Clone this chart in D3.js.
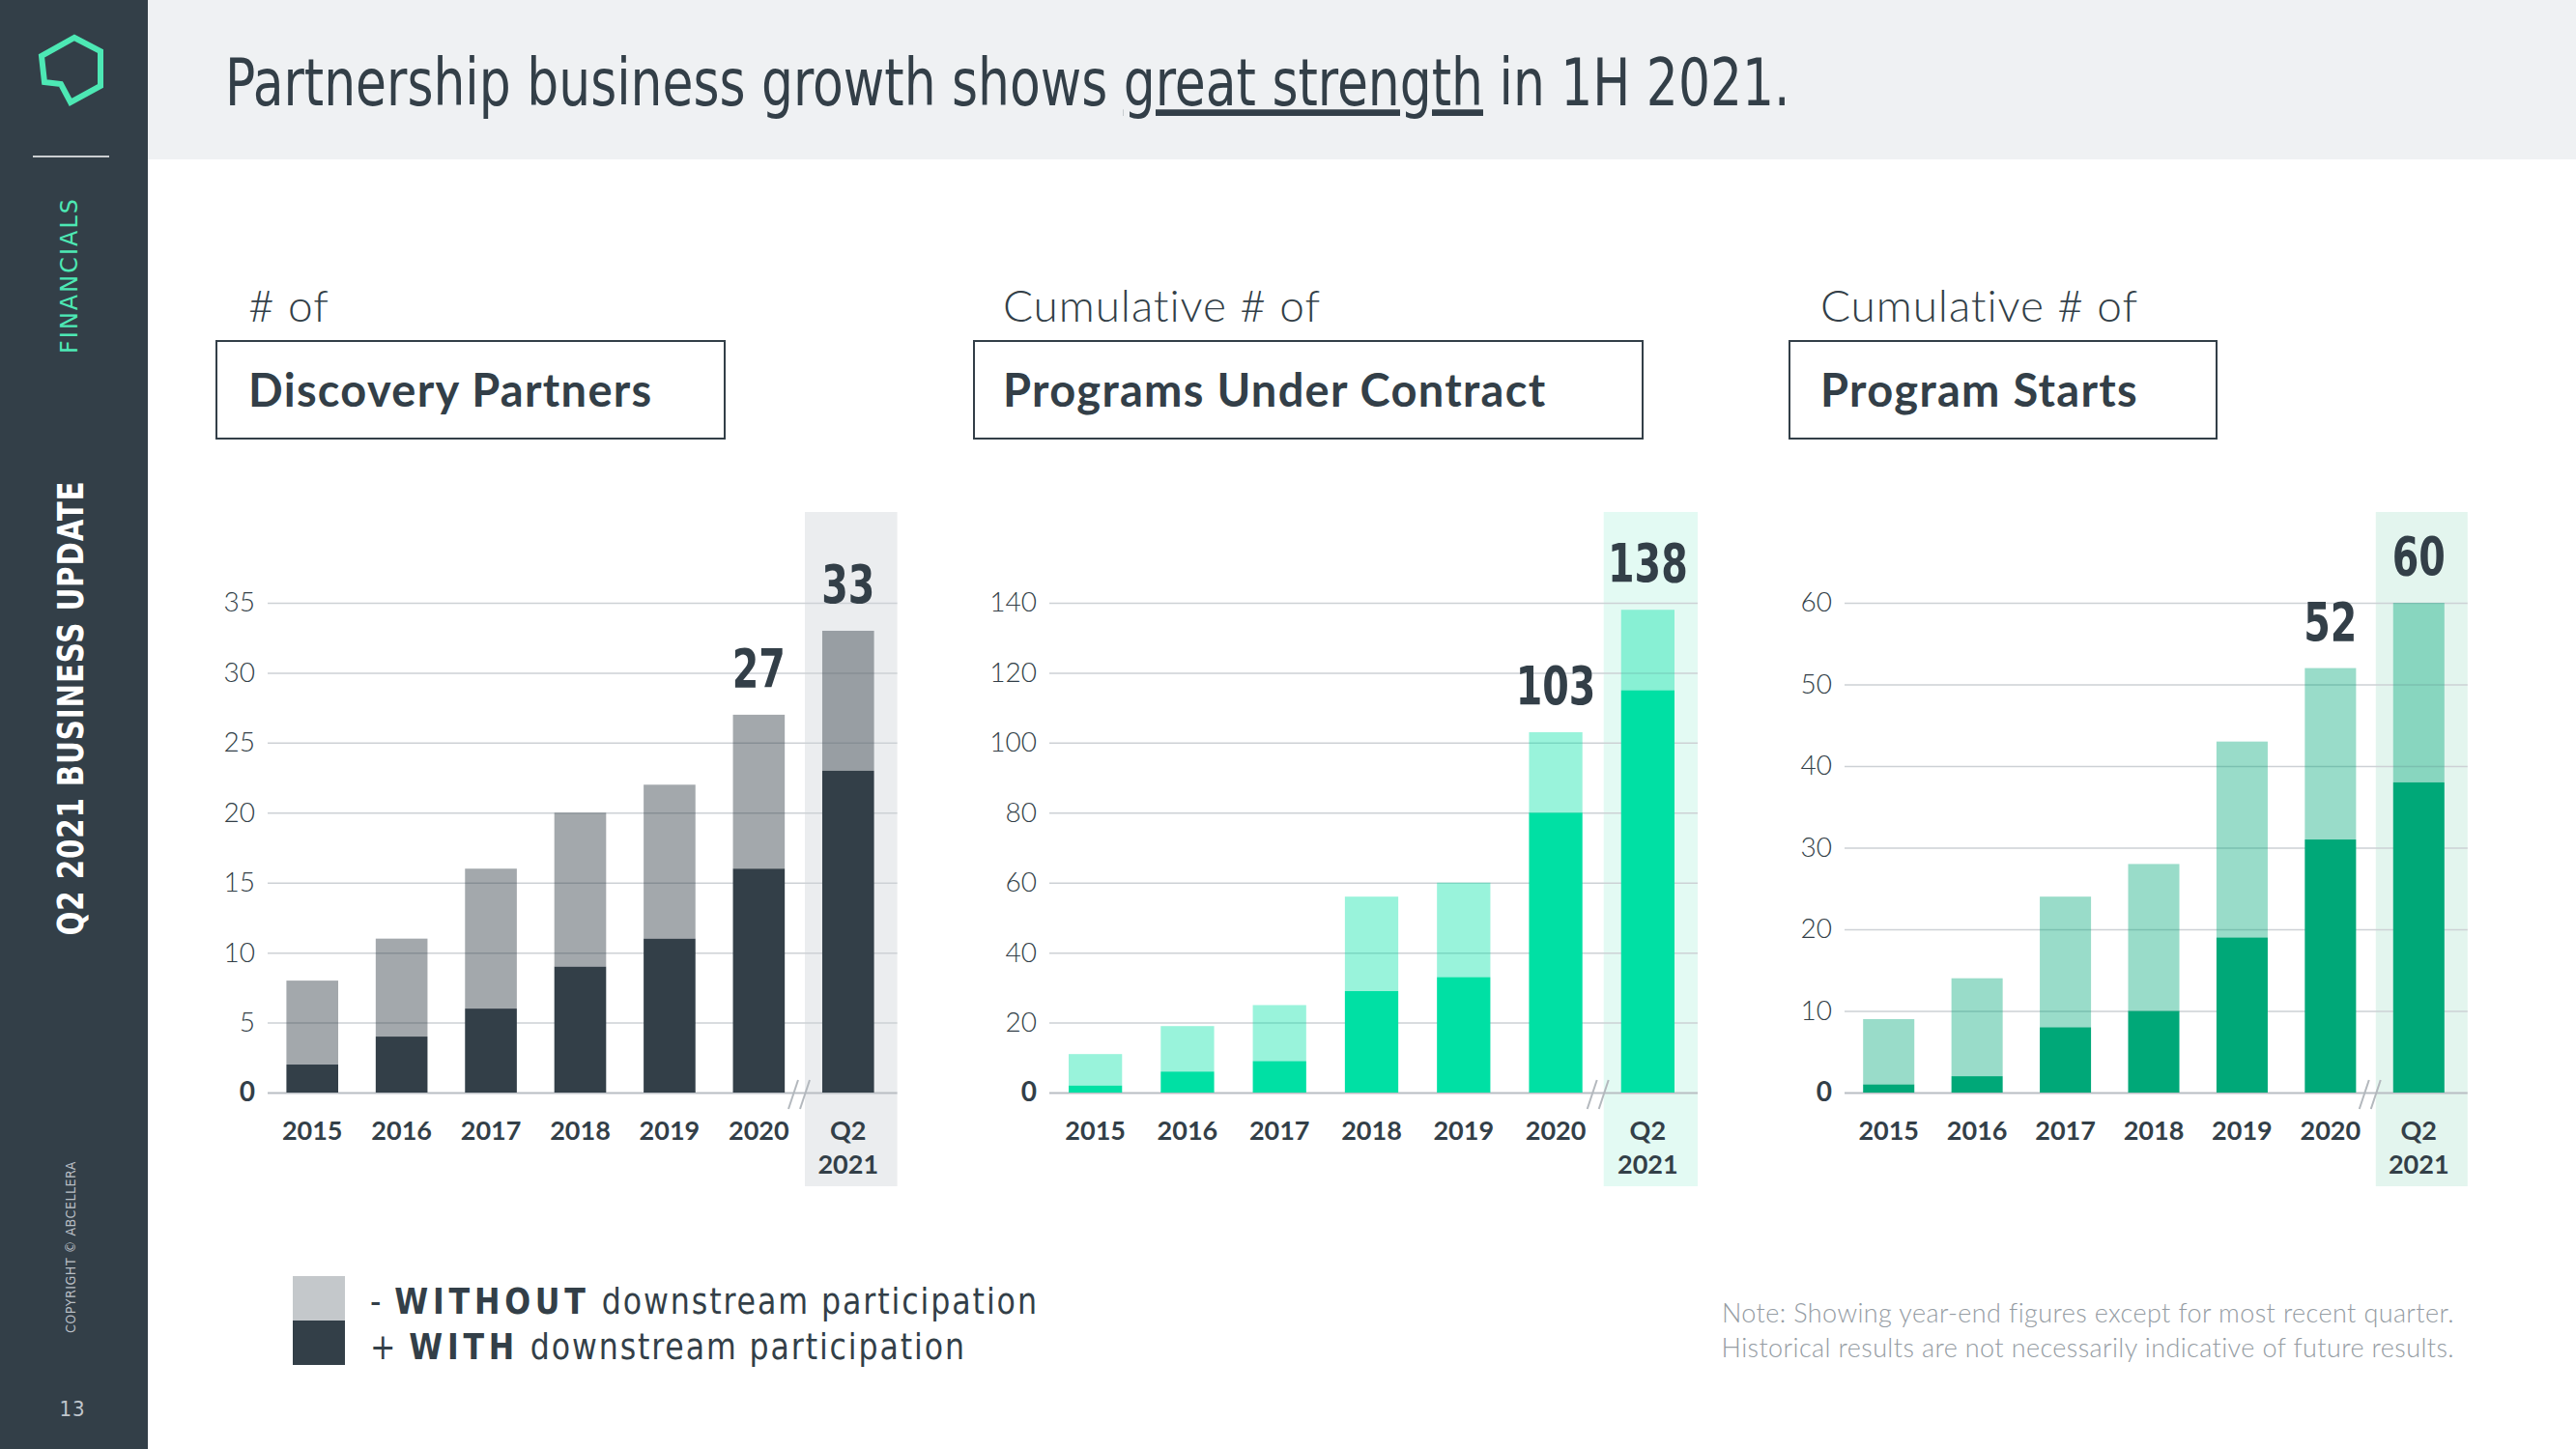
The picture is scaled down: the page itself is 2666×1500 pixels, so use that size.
<!DOCTYPE html>
<html><head><meta charset="utf-8">
<script src="https://cdn.jsdelivr.net/npm/d3@7"></script>
<style>
html,body{margin:0;padding:0;background:#fff;}
svg{display:block;}
</style></head><body>
<svg id="chart" width="2666" height="1500"></svg>
<script>
// ---------- DATA ----------
const categories = ["2015","2016","2017","2018","2019","2020","Q2 2021"];
const partnersWith     = [2, 4, 6, 9, 11, 16, 23];
const partnersTotal    = [8, 11, 16, 20, 22, 27, 33];
const contractsWith    = [2, 6, 9, 29, 33, 80, 115];
const contractsTotal   = [11, 19, 25, 56, 60, 103, 138];
const startsWith       = [1, 2, 8, 10, 19, 31, 38];
const startsTotal      = [9, 14, 24, 28, 43, 52, 60];
const partnersTicks  = [0, 5, 10, 15, 20, 25, 30, 35];
const contractsTicks = [0, 20, 40, 60, 80, 100, 120, 140];
const startsTicks    = [0, 10, 20, 30, 40, 50, 60];
const labeledCategories = ["2020", "Q2 2021"];
const panelPrefixes = ["# of", "Cumulative # of", "Cumulative # of"];
const panelTitles   = ["Discovery Partners", "Programs Under Contract", "Program Starts"];
const titleParts = ["Partnership business growth shows ", "great strength", " in 1H 2021."];
const legendLabels = [["- ", "WITHOUT", " downstream participation"], ["+ ", "WITH", " downstream participation"]];
const noteLines = ["Note: Showing year-end figures except for most recent quarter.",
                   "Historical results are not necessarily indicative of future results."];

// ---------- STYLE / LAYOUT ----------
const INK = "#333f48";
const NARROW = "'Liberation Sans Narrow','DejaVu Sans Condensed',sans-serif";
const SANS = "Lato,'Open Sans',sans-serif";
const svg = d3.select("#chart");

// sidebar
svg.append("rect").attr("x",0).attr("y",0).attr("width",153).attr("height",1500).attr("fill",INK);
svg.append("polygon")
  .attr("points","77,39 104,53 104,89 73,106 63,87 46,85 43,58")
  .attr("fill","none").attr("stroke","#4de8b4").attr("stroke-width",6).attr("stroke-linejoin","miter");
svg.append("line").attr("x1",34).attr("x2",113).attr("y1",162).attr("y2",162).attr("stroke","#fff").attr("stroke-width",1.5);
svg.append("text").attr("transform","translate(80,285) rotate(-90)").attr("text-anchor","middle")
  .attr("font-family",NARROW).attr("font-size",25).attr("letter-spacing",2)
  .attr("textLength",162).attr("lengthAdjust","spacingAndGlyphs").attr("fill","#4de8b4").text("FINANCIALS");
svg.append("text").attr("transform","translate(86,733) rotate(-90)").attr("text-anchor","middle")
  .attr("font-family",NARROW).attr("font-weight","bold").attr("font-size",38).attr("letter-spacing",1)
  .attr("textLength",471).attr("lengthAdjust","spacingAndGlyphs").attr("fill","#fff").text("Q2 2021 BUSINESS UPDATE");
svg.append("text").attr("transform","translate(78,1291) rotate(-90)").attr("text-anchor","middle")
  .attr("font-family",NARROW).attr("font-size",14).attr("letter-spacing",0.5)
  .attr("textLength",178).attr("lengthAdjust","spacingAndGlyphs").attr("fill","#b8bec4").text("COPYRIGHT © ABCELLERA");
svg.append("text").attr("x",75).attr("y",1466).attr("text-anchor","middle")
  .attr("font-family",NARROW).attr("font-size",22).attr("letter-spacing",1).attr("fill","#c0c6cc").text("13");

// header
svg.append("rect").attr("x",153).attr("y",0).attr("width",2666-153).attr("height",165).attr("fill","#eff1f3");
const title = svg.append("text").attr("x",0).attr("y",0)
  .attr("font-family",NARROW).attr("font-size",67).attr("fill",INK);
titleParts.forEach((t,i)=>{
  const ts = title.append("tspan").text(t);
  if(i===1) ts.style("text-decoration","underline");
});
const natural = title.node().getComputedTextLength();
title.attr("transform",`translate(233,109) scale(${1620/natural},1)`);

// panels
const panels = [
  {w: partnersWith, t: partnersTotal, ticks: partnersTicks, xr:[277,924], box:[224,750], textX:257,
   dark:INK, lightOp:0.45, band:"#ebedef"},
  {w: contractsWith, t: contractsTotal, ticks: contractsTicks, xr:[1086,1753], box:[1008,1700], textX:1038,
   dark:"#00e0a4", lightOp:0.4, band:"#e3faf3"},
  {w: startsWith, t: startsTotal, ticks: startsTicks, xr:[1909,2549], box:[1852,2294], textX:1884,
   dark:"#00a878", lightOp:0.4, band:"#e3f5ee"}
];
const Y0 = 1131, Y1 = 624;

panels.forEach((p,pi)=>{
  const g = svg.append("g");
  // headings
  g.append("text").attr("x",p.textX).attr("y",333).attr("font-family",SANS).attr("font-weight",300)
    .attr("font-size",46).attr("letter-spacing",0.9).attr("fill",INK).text(panelPrefixes[pi]);
  g.append("rect").attr("x",p.box[0]).attr("y",353).attr("width",p.box[1]-p.box[0]).attr("height",101)
    .attr("fill","none").attr("stroke",INK).attr("stroke-width",2);
  g.append("text").attr("x",p.textX).attr("y",421).attr("font-family",SANS).attr("font-weight",700)
    .attr("font-size",47).attr("letter-spacing",1.3).attr("fill",INK).text(panelTitles[pi]);

  const x = d3.scaleBand().domain(categories).range(p.xr).paddingInner(0.42).paddingOuter(0.21);
  const y = d3.scaleLinear().domain([0, d3.max(p.ticks)]).range([Y0, Y1]);
  const bw = x.bandwidth();
  const last = categories[categories.length-1];
  const bandL = x(last) - 18, bandR = x(last) + bw + 24;

  // highlight band
  g.append("rect").attr("x",bandL).attr("y",530).attr("width",bandR-bandL).attr("height",698).attr("fill",p.band);

  // grid via axis
  const ax = g.append("g").attr("transform",`translate(${p.xr[0]},0)`)
    .call(d3.axisLeft(y).tickValues(p.ticks).tickSize(-(bandR-p.xr[0])).tickPadding(13));
  ax.select(".domain").remove();
  ax.selectAll(".tick line").attr("stroke","#cdd1d5").attr("stroke-width",1.5);
  ax.selectAll(".tick text").attr("font-family",SANS).attr("font-size",28).attr("font-weight",d=>d===0?700:300)
    .attr("fill",INK);
  ax.selectAll(".tick").filter(d=>d===0).select("line").attr("stroke","#b9bec3").attr("stroke-width",2);

  // bars
  const rows = categories.map((c,i)=>({c, w:p.w[i], t:p.t[i]}));
  g.selectAll(".bw").data(rows).join("rect").attr("x",d=>x(d.c)).attr("width",bw)
    .attr("y",d=>y(d.w)).attr("height",d=>y(0)-y(d.w)).attr("fill",p.dark);
  g.selectAll(".bo").data(rows).join("rect").attr("x",d=>x(d.c)).attr("width",bw)
    .attr("y",d=>y(d.t)).attr("height",d=>y(d.w)-y(d.t)).attr("fill",p.dark).attr("fill-opacity",p.lightOp);

  // value labels
  g.selectAll(".vl").data(rows.filter(d=>labeledCategories.includes(d.c))).join("text")
    .attr("transform",d=>`translate(${x(d.c)+bw/2},${y(d.t)-29}) scale(0.8,1)`).attr("text-anchor","middle")
    .attr("font-family",NARROW).attr("font-weight","bold").attr("font-size",55).attr("fill",INK)
    .text(d=>d.t);

  // category labels
  const cl = g.selectAll(".cl").data(categories).join("text")
    .attr("x",d=>x(d)+bw/2).attr("y",1180).attr("text-anchor","middle")
    .attr("font-family",SANS).attr("font-weight",700).attr("font-size",27).attr("fill",INK);
  cl.each(function(d){
    const parts = d.split(" ");
    const el = d3.select(this);
    parts.forEach((s,k)=>el.append("tspan").attr("x",x(d)+bw/2).attr("dy",k?35:0).text(s));
  });

  // axis break marks
  const bx = bandL - 6;
  [-6,6].forEach(o=>{
    g.append("line").attr("x1",bx+o-5).attr("y1",Y0+17).attr("x2",bx+o+5).attr("y2",Y0-13)
      .attr("stroke","#b3b8bd").attr("stroke-width",2);
  });
});

// legend
const legColors = ["#c4c8cb", INK];
const legLen = [692, 617];
legColors.forEach((c,i)=>{
  svg.append("rect").attr("x",303).attr("y",1321+i*46).attr("width",54).attr("height",46).attr("fill",c);
  const t = svg.append("text").attr("x",0).attr("y",0).attr("font-family",NARROW)
    .attr("font-size",37).attr("fill",INK);
  legendLabels[i].forEach((s,k)=>{
    const ts = t.append("tspan").text(s);
    if(k===1) ts.attr("font-weight","bold").attr("letter-spacing",5);
    else ts.attr("letter-spacing",2);
  });
  const nat = t.node().getComputedTextLength();
  t.attr("transform",`translate(383,${1360+i*47}) scale(${legLen[i]/nat},1)`);
});

// note
noteLines.forEach((s,i)=>{
  svg.append("text").attr("x",2540).attr("y",1369+i*36).attr("text-anchor","end")
    .attr("font-family",SANS).attr("font-weight",300).attr("font-size",27).attr("letter-spacing",0.4)
    .attr("fill","#959ca3").text(s);
});
</script></body></html>
